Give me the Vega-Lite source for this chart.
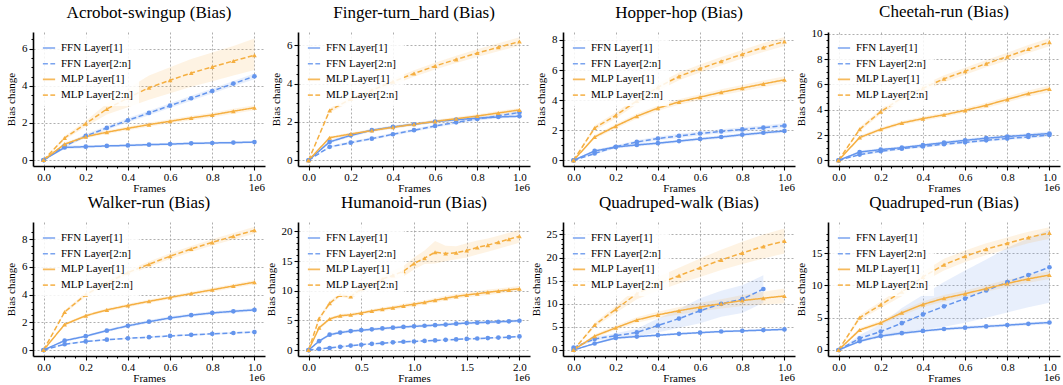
{
  "$schema": "https://vega.github.io/schema/vega-lite/v6.json",
  "padding": {"left": 5, "top": 2, "right": 2, "bottom": 0},
  "config": {
    "font": "Liberation Serif",
    "view": {"stroke": null},
    "style": {
      "group-title": {"font": "Liberation Serif", "fontSize": 17, "fontWeight": "normal", "fill": "black"},
      "guide-title": {"font": "Liberation Serif", "fontSize": 11, "fontWeight": "normal", "fill": "black"},
      "guide-label": {"font": "Liberation Serif", "fontSize": 11, "fill": "black"}
    },
    "text": {"font": "Liberation Serif", "fontSize": 11, "color": "black"},
    "title": {"font": "Liberation Serif", "fontSize": 17, "fontWeight": "normal", "color": "black", "offset": 10.5},
    "axis": {
      "labelFont": "Liberation Serif", "labelFontSize": 11, "labelColor": "black", "labelPadding": 2,
      "labelOverlap": false, "labelFlush": false,
      "titleFont": "Liberation Serif", "titleFontSize": 11, "titleFontWeight": "normal", "titleColor": "black",
      "domainColor": "black", "domainWidth": 1.6, "tickColor": "black", "tickWidth": 1.1,
      "gridColor": "#9a9a9a", "gridDash": [2, 2], "gridWidth": 0.8
    },
    "axisX": {"titlePadding": 0, "labelPadding": 1},
    "axisY": {"titlePadding": 5},
    "legend": {
      "orient": "top-left", "offset": 4, "padding": 5, "fillColor": "rgba(255,255,255,0.85)",
      "labelFont": "Liberation Serif", "labelFontSize": 11, "labelColor": "black", "labelOffset": 5,
      "symbolType": "stroke", "symbolSize": 150, "symbolStrokeWidth": 1.6, "rowPadding": 3.7
    }
  },
  "datasets": {
    "acrobot": [
      {"s":"FFN Layer[1]","x":0,"y":0,"lo":0,"hi":0},
      {"s":"FFN Layer[1]","x":100000,"y":0.68,"lo":0.58,"hi":0.78},
      {"s":"FFN Layer[1]","x":200000,"y":0.72,"lo":0.64,"hi":0.8},
      {"s":"FFN Layer[1]","x":300000,"y":0.76,"lo":0.69,"hi":0.83},
      {"s":"FFN Layer[1]","x":400000,"y":0.79,"lo":0.72,"hi":0.86},
      {"s":"FFN Layer[1]","x":500000,"y":0.83,"lo":0.76,"hi":0.9},
      {"s":"FFN Layer[1]","x":600000,"y":0.86,"lo":0.79,"hi":0.93},
      {"s":"FFN Layer[1]","x":700000,"y":0.9,"lo":0.83,"hi":0.97},
      {"s":"FFN Layer[1]","x":800000,"y":0.92,"lo":0.85,"hi":0.99},
      {"s":"FFN Layer[1]","x":900000,"y":0.94,"lo":0.87,"hi":1.01},
      {"s":"FFN Layer[1]","x":1000000,"y":0.97,"lo":0.9,"hi":1.04},
      {"s":"FFN Layer[2:n]","x":0,"y":0,"lo":0,"hi":0},
      {"s":"FFN Layer[2:n]","x":100000,"y":0.76,"lo":0.68,"hi":0.84},
      {"s":"FFN Layer[2:n]","x":200000,"y":1.3,"lo":1.2,"hi":1.4},
      {"s":"FFN Layer[2:n]","x":300000,"y":1.73,"lo":1.62,"hi":1.84},
      {"s":"FFN Layer[2:n]","x":400000,"y":2.14,"lo":2.02,"hi":2.26},
      {"s":"FFN Layer[2:n]","x":500000,"y":2.54,"lo":2.42,"hi":2.66},
      {"s":"FFN Layer[2:n]","x":600000,"y":2.93,"lo":2.8,"hi":3.06},
      {"s":"FFN Layer[2:n]","x":700000,"y":3.33,"lo":3.2,"hi":3.46},
      {"s":"FFN Layer[2:n]","x":800000,"y":3.72,"lo":3.58,"hi":3.86},
      {"s":"FFN Layer[2:n]","x":900000,"y":4.12,"lo":3.98,"hi":4.26},
      {"s":"FFN Layer[2:n]","x":1000000,"y":4.51,"lo":4.36,"hi":4.66},
      {"s":"MLP Layer[1]","x":0,"y":0,"lo":0,"hi":0},
      {"s":"MLP Layer[1]","x":100000,"y":0.86,"lo":0.78,"hi":0.94},
      {"s":"MLP Layer[1]","x":200000,"y":1.26,"lo":1.17,"hi":1.35},
      {"s":"MLP Layer[1]","x":300000,"y":1.5,"lo":1.4,"hi":1.6},
      {"s":"MLP Layer[1]","x":400000,"y":1.71,"lo":1.61,"hi":1.81},
      {"s":"MLP Layer[1]","x":500000,"y":1.91,"lo":1.8,"hi":2.02},
      {"s":"MLP Layer[1]","x":600000,"y":2.09,"lo":1.98,"hi":2.2},
      {"s":"MLP Layer[1]","x":700000,"y":2.27,"lo":2.15,"hi":2.39},
      {"s":"MLP Layer[1]","x":800000,"y":2.43,"lo":2.31,"hi":2.55},
      {"s":"MLP Layer[1]","x":900000,"y":2.63,"lo":2.5,"hi":2.76},
      {"s":"MLP Layer[1]","x":1000000,"y":2.82,"lo":2.68,"hi":2.96},
      {"s":"MLP Layer[2:n]","x":0,"y":0,"lo":0,"hi":0},
      {"s":"MLP Layer[2:n]","x":100000,"y":1.19,"lo":1.1,"hi":1.3},
      {"s":"MLP Layer[2:n]","x":200000,"y":1.96,"lo":1.8,"hi":2.1},
      {"s":"MLP Layer[2:n]","x":300000,"y":2.75,"lo":2.45,"hi":3.05},
      {"s":"MLP Layer[2:n]","x":400000,"y":3.35,"lo":2.85,"hi":3.85},
      {"s":"MLP Layer[2:n]","x":500000,"y":3.9,"lo":3.25,"hi":4.55},
      {"s":"MLP Layer[2:n]","x":600000,"y":4.3,"lo":3.6,"hi":5.0},
      {"s":"MLP Layer[2:n]","x":700000,"y":4.69,"lo":3.95,"hi":5.45},
      {"s":"MLP Layer[2:n]","x":800000,"y":5.02,"lo":4.25,"hi":5.8},
      {"s":"MLP Layer[2:n]","x":900000,"y":5.34,"lo":4.55,"hi":6.15},
      {"s":"MLP Layer[2:n]","x":1000000,"y":5.65,"lo":4.85,"hi":6.55}
    ],
    "finger": [
      {"s":"FFN Layer[1]","x":0,"y":0,"lo":0,"hi":0},
      {"s":"FFN Layer[1]","x":100000,"y":0.96,"lo":0.88,"hi":1.04},
      {"s":"FFN Layer[1]","x":200000,"y":1.3,"lo":1.22,"hi":1.38},
      {"s":"FFN Layer[1]","x":300000,"y":1.57,"lo":1.49,"hi":1.65},
      {"s":"FFN Layer[1]","x":400000,"y":1.74,"lo":1.66,"hi":1.82},
      {"s":"FFN Layer[1]","x":500000,"y":1.88,"lo":1.8,"hi":1.96},
      {"s":"FFN Layer[1]","x":600000,"y":2.02,"lo":1.94,"hi":2.1},
      {"s":"FFN Layer[1]","x":700000,"y":2.12,"lo":2.04,"hi":2.2},
      {"s":"FFN Layer[1]","x":800000,"y":2.2,"lo":2.12,"hi":2.28},
      {"s":"FFN Layer[1]","x":900000,"y":2.26,"lo":2.18,"hi":2.34},
      {"s":"FFN Layer[1]","x":1000000,"y":2.3,"lo":2.22,"hi":2.38},
      {"s":"FFN Layer[2:n]","x":0,"y":0,"lo":0,"hi":0},
      {"s":"FFN Layer[2:n]","x":100000,"y":0.7,"lo":0.64,"hi":0.76},
      {"s":"FFN Layer[2:n]","x":200000,"y":0.92,"lo":0.85,"hi":0.99},
      {"s":"FFN Layer[2:n]","x":300000,"y":1.13,"lo":1.06,"hi":1.2},
      {"s":"FFN Layer[2:n]","x":400000,"y":1.36,"lo":1.28,"hi":1.44},
      {"s":"FFN Layer[2:n]","x":500000,"y":1.57,"lo":1.49,"hi":1.65},
      {"s":"FFN Layer[2:n]","x":600000,"y":1.79,"lo":1.7,"hi":1.88},
      {"s":"FFN Layer[2:n]","x":700000,"y":1.98,"lo":1.89,"hi":2.07},
      {"s":"FFN Layer[2:n]","x":800000,"y":2.16,"lo":2.07,"hi":2.25},
      {"s":"FFN Layer[2:n]","x":900000,"y":2.32,"lo":2.22,"hi":2.42},
      {"s":"FFN Layer[2:n]","x":1000000,"y":2.5,"lo":2.4,"hi":2.6},
      {"s":"MLP Layer[1]","x":0,"y":0,"lo":0,"hi":0},
      {"s":"MLP Layer[1]","x":100000,"y":1.18,"lo":1.1,"hi":1.26},
      {"s":"MLP Layer[1]","x":200000,"y":1.37,"lo":1.29,"hi":1.45},
      {"s":"MLP Layer[1]","x":300000,"y":1.55,"lo":1.47,"hi":1.63},
      {"s":"MLP Layer[1]","x":400000,"y":1.72,"lo":1.64,"hi":1.8},
      {"s":"MLP Layer[1]","x":500000,"y":1.88,"lo":1.8,"hi":1.96},
      {"s":"MLP Layer[1]","x":600000,"y":2.03,"lo":1.94,"hi":2.12},
      {"s":"MLP Layer[1]","x":700000,"y":2.17,"lo":2.08,"hi":2.26},
      {"s":"MLP Layer[1]","x":800000,"y":2.31,"lo":2.22,"hi":2.4},
      {"s":"MLP Layer[1]","x":900000,"y":2.47,"lo":2.37,"hi":2.57},
      {"s":"MLP Layer[1]","x":1000000,"y":2.63,"lo":2.53,"hi":2.73},
      {"s":"MLP Layer[2:n]","x":0,"y":0,"lo":0,"hi":0},
      {"s":"MLP Layer[2:n]","x":100000,"y":2.6,"lo":2.48,"hi":2.72},
      {"s":"MLP Layer[2:n]","x":200000,"y":3.2,"lo":3.06,"hi":3.34},
      {"s":"MLP Layer[2:n]","x":300000,"y":3.65,"lo":3.5,"hi":3.8},
      {"s":"MLP Layer[2:n]","x":400000,"y":4.1,"lo":3.94,"hi":4.26},
      {"s":"MLP Layer[2:n]","x":500000,"y":4.53,"lo":4.36,"hi":4.7},
      {"s":"MLP Layer[2:n]","x":600000,"y":4.92,"lo":4.74,"hi":5.1},
      {"s":"MLP Layer[2:n]","x":700000,"y":5.27,"lo":5.08,"hi":5.46},
      {"s":"MLP Layer[2:n]","x":800000,"y":5.6,"lo":5.4,"hi":5.8},
      {"s":"MLP Layer[2:n]","x":900000,"y":5.9,"lo":5.69,"hi":6.11},
      {"s":"MLP Layer[2:n]","x":1000000,"y":6.2,"lo":5.98,"hi":6.42}
    ],
    "hopper": [
      {"s":"FFN Layer[1]","x":0,"y":0,"lo":0,"hi":0},
      {"s":"FFN Layer[1]","x":100000,"y":0.62,"lo":0.52,"hi":0.72},
      {"s":"FFN Layer[1]","x":200000,"y":0.88,"lo":0.78,"hi":0.98},
      {"s":"FFN Layer[1]","x":300000,"y":1.02,"lo":0.92,"hi":1.12},
      {"s":"FFN Layer[1]","x":400000,"y":1.14,"lo":1.04,"hi":1.24},
      {"s":"FFN Layer[1]","x":500000,"y":1.28,"lo":1.17,"hi":1.39},
      {"s":"FFN Layer[1]","x":600000,"y":1.42,"lo":1.31,"hi":1.53},
      {"s":"FFN Layer[1]","x":700000,"y":1.55,"lo":1.44,"hi":1.66},
      {"s":"FFN Layer[1]","x":800000,"y":1.7,"lo":1.58,"hi":1.82},
      {"s":"FFN Layer[1]","x":900000,"y":1.83,"lo":1.71,"hi":1.95},
      {"s":"FFN Layer[1]","x":1000000,"y":1.95,"lo":1.83,"hi":2.07},
      {"s":"FFN Layer[2:n]","x":0,"y":0,"lo":0,"hi":0},
      {"s":"FFN Layer[2:n]","x":100000,"y":0.45,"lo":0.37,"hi":0.53},
      {"s":"FFN Layer[2:n]","x":200000,"y":0.9,"lo":0.8,"hi":1.0},
      {"s":"FFN Layer[2:n]","x":300000,"y":1.22,"lo":1.1,"hi":1.34},
      {"s":"FFN Layer[2:n]","x":400000,"y":1.45,"lo":1.32,"hi":1.58},
      {"s":"FFN Layer[2:n]","x":500000,"y":1.62,"lo":1.48,"hi":1.76},
      {"s":"FFN Layer[2:n]","x":600000,"y":1.78,"lo":1.64,"hi":1.92},
      {"s":"FFN Layer[2:n]","x":700000,"y":1.92,"lo":1.78,"hi":2.06},
      {"s":"FFN Layer[2:n]","x":800000,"y":2.05,"lo":1.9,"hi":2.2},
      {"s":"FFN Layer[2:n]","x":900000,"y":2.17,"lo":2.02,"hi":2.32},
      {"s":"FFN Layer[2:n]","x":1000000,"y":2.3,"lo":2.14,"hi":2.46},
      {"s":"MLP Layer[1]","x":0,"y":0,"lo":0,"hi":0},
      {"s":"MLP Layer[1]","x":100000,"y":1.55,"lo":1.42,"hi":1.68},
      {"s":"MLP Layer[1]","x":200000,"y":2.27,"lo":2.12,"hi":2.42},
      {"s":"MLP Layer[1]","x":300000,"y":2.93,"lo":2.77,"hi":3.09},
      {"s":"MLP Layer[1]","x":400000,"y":3.47,"lo":3.3,"hi":3.64},
      {"s":"MLP Layer[1]","x":500000,"y":3.88,"lo":3.7,"hi":4.06},
      {"s":"MLP Layer[1]","x":600000,"y":4.2,"lo":4.01,"hi":4.39},
      {"s":"MLP Layer[1]","x":700000,"y":4.52,"lo":4.32,"hi":4.72},
      {"s":"MLP Layer[1]","x":800000,"y":4.8,"lo":4.59,"hi":5.01},
      {"s":"MLP Layer[1]","x":900000,"y":5.08,"lo":4.86,"hi":5.3},
      {"s":"MLP Layer[1]","x":1000000,"y":5.35,"lo":5.12,"hi":5.58},
      {"s":"MLP Layer[2:n]","x":0,"y":0,"lo":0,"hi":0},
      {"s":"MLP Layer[2:n]","x":100000,"y":2.15,"lo":1.98,"hi":2.32},
      {"s":"MLP Layer[2:n]","x":200000,"y":2.98,"lo":2.78,"hi":3.18},
      {"s":"MLP Layer[2:n]","x":300000,"y":3.95,"lo":3.72,"hi":4.18},
      {"s":"MLP Layer[2:n]","x":400000,"y":4.85,"lo":4.6,"hi":5.1},
      {"s":"MLP Layer[2:n]","x":500000,"y":5.58,"lo":5.32,"hi":5.84},
      {"s":"MLP Layer[2:n]","x":600000,"y":6.1,"lo":5.83,"hi":6.37},
      {"s":"MLP Layer[2:n]","x":700000,"y":6.58,"lo":6.3,"hi":6.86},
      {"s":"MLP Layer[2:n]","x":800000,"y":7.05,"lo":6.76,"hi":7.34},
      {"s":"MLP Layer[2:n]","x":900000,"y":7.5,"lo":7.2,"hi":7.8},
      {"s":"MLP Layer[2:n]","x":1000000,"y":7.9,"lo":7.6,"hi":8.2}
    ],
    "cheetah": [
      {"s":"FFN Layer[1]","x":0,"y":0,"lo":0,"hi":0},
      {"s":"FFN Layer[1]","x":100000,"y":0.65,"lo":0.52,"hi":0.78},
      {"s":"FFN Layer[1]","x":200000,"y":0.85,"lo":0.74,"hi":0.96},
      {"s":"FFN Layer[1]","x":300000,"y":1.0,"lo":0.89,"hi":1.11},
      {"s":"FFN Layer[1]","x":400000,"y":1.2,"lo":1.08,"hi":1.32},
      {"s":"FFN Layer[1]","x":500000,"y":1.4,"lo":1.27,"hi":1.53},
      {"s":"FFN Layer[1]","x":600000,"y":1.58,"lo":1.45,"hi":1.71},
      {"s":"FFN Layer[1]","x":700000,"y":1.75,"lo":1.62,"hi":1.88},
      {"s":"FFN Layer[1]","x":800000,"y":1.88,"lo":1.74,"hi":2.02},
      {"s":"FFN Layer[1]","x":900000,"y":2.0,"lo":1.86,"hi":2.14},
      {"s":"FFN Layer[1]","x":1000000,"y":2.12,"lo":1.97,"hi":2.27},
      {"s":"FFN Layer[2:n]","x":0,"y":0,"lo":0,"hi":0},
      {"s":"FFN Layer[2:n]","x":100000,"y":0.45,"lo":0.36,"hi":0.54},
      {"s":"FFN Layer[2:n]","x":200000,"y":0.72,"lo":0.62,"hi":0.82},
      {"s":"FFN Layer[2:n]","x":300000,"y":0.92,"lo":0.82,"hi":1.02},
      {"s":"FFN Layer[2:n]","x":400000,"y":1.1,"lo":0.99,"hi":1.21},
      {"s":"FFN Layer[2:n]","x":500000,"y":1.28,"lo":1.17,"hi":1.39},
      {"s":"FFN Layer[2:n]","x":600000,"y":1.42,"lo":1.31,"hi":1.53},
      {"s":"FFN Layer[2:n]","x":700000,"y":1.58,"lo":1.46,"hi":1.7},
      {"s":"FFN Layer[2:n]","x":800000,"y":1.72,"lo":1.6,"hi":1.84},
      {"s":"FFN Layer[2:n]","x":900000,"y":1.85,"lo":1.72,"hi":1.98},
      {"s":"FFN Layer[2:n]","x":1000000,"y":2.0,"lo":1.87,"hi":2.13},
      {"s":"MLP Layer[1]","x":0,"y":0,"lo":0,"hi":0},
      {"s":"MLP Layer[1]","x":100000,"y":1.8,"lo":1.66,"hi":1.94},
      {"s":"MLP Layer[1]","x":200000,"y":2.45,"lo":2.3,"hi":2.6},
      {"s":"MLP Layer[1]","x":300000,"y":2.95,"lo":2.79,"hi":3.11},
      {"s":"MLP Layer[1]","x":400000,"y":3.3,"lo":3.13,"hi":3.47},
      {"s":"MLP Layer[1]","x":500000,"y":3.6,"lo":3.42,"hi":3.78},
      {"s":"MLP Layer[1]","x":600000,"y":3.95,"lo":3.76,"hi":4.14},
      {"s":"MLP Layer[1]","x":700000,"y":4.35,"lo":4.14,"hi":4.56},
      {"s":"MLP Layer[1]","x":800000,"y":4.82,"lo":4.6,"hi":5.04},
      {"s":"MLP Layer[1]","x":900000,"y":5.28,"lo":5.04,"hi":5.52},
      {"s":"MLP Layer[1]","x":1000000,"y":5.65,"lo":5.38,"hi":5.92},
      {"s":"MLP Layer[2:n]","x":0,"y":0,"lo":0,"hi":0},
      {"s":"MLP Layer[2:n]","x":100000,"y":2.45,"lo":2.28,"hi":2.62},
      {"s":"MLP Layer[2:n]","x":200000,"y":3.85,"lo":3.64,"hi":4.06},
      {"s":"MLP Layer[2:n]","x":300000,"y":4.95,"lo":4.72,"hi":5.18},
      {"s":"MLP Layer[2:n]","x":400000,"y":5.7,"lo":5.45,"hi":5.95},
      {"s":"MLP Layer[2:n]","x":500000,"y":6.45,"lo":6.18,"hi":6.72},
      {"s":"MLP Layer[2:n]","x":600000,"y":7.05,"lo":6.77,"hi":7.33},
      {"s":"MLP Layer[2:n]","x":700000,"y":7.65,"lo":7.36,"hi":7.94},
      {"s":"MLP Layer[2:n]","x":800000,"y":8.2,"lo":7.9,"hi":8.5},
      {"s":"MLP Layer[2:n]","x":900000,"y":8.8,"lo":8.48,"hi":9.12},
      {"s":"MLP Layer[2:n]","x":1000000,"y":9.35,"lo":9.02,"hi":9.68}
    ],
    "walker": [
      {"s":"FFN Layer[1]","x":0,"y":0,"lo":0,"hi":0},
      {"s":"FFN Layer[1]","x":100000,"y":0.68,"lo":0.6,"hi":0.76},
      {"s":"FFN Layer[1]","x":200000,"y":1.0,"lo":0.91,"hi":1.09},
      {"s":"FFN Layer[1]","x":300000,"y":1.4,"lo":1.3,"hi":1.5},
      {"s":"FFN Layer[1]","x":400000,"y":1.75,"lo":1.64,"hi":1.86},
      {"s":"FFN Layer[1]","x":500000,"y":2.05,"lo":1.93,"hi":2.17},
      {"s":"FFN Layer[1]","x":600000,"y":2.32,"lo":2.2,"hi":2.44},
      {"s":"FFN Layer[1]","x":700000,"y":2.52,"lo":2.4,"hi":2.64},
      {"s":"FFN Layer[1]","x":800000,"y":2.68,"lo":2.56,"hi":2.8},
      {"s":"FFN Layer[1]","x":900000,"y":2.8,"lo":2.68,"hi":2.92},
      {"s":"FFN Layer[1]","x":1000000,"y":2.9,"lo":2.78,"hi":3.02},
      {"s":"FFN Layer[2:n]","x":0,"y":0,"lo":0,"hi":0},
      {"s":"FFN Layer[2:n]","x":100000,"y":0.42,"lo":0.36,"hi":0.48},
      {"s":"FFN Layer[2:n]","x":200000,"y":0.62,"lo":0.56,"hi":0.68},
      {"s":"FFN Layer[2:n]","x":300000,"y":0.75,"lo":0.69,"hi":0.81},
      {"s":"FFN Layer[2:n]","x":400000,"y":0.85,"lo":0.79,"hi":0.91},
      {"s":"FFN Layer[2:n]","x":500000,"y":0.93,"lo":0.87,"hi":0.99},
      {"s":"FFN Layer[2:n]","x":600000,"y":1.02,"lo":0.96,"hi":1.08},
      {"s":"FFN Layer[2:n]","x":700000,"y":1.1,"lo":1.04,"hi":1.16},
      {"s":"FFN Layer[2:n]","x":800000,"y":1.17,"lo":1.1,"hi":1.24},
      {"s":"FFN Layer[2:n]","x":900000,"y":1.23,"lo":1.16,"hi":1.3},
      {"s":"FFN Layer[2:n]","x":1000000,"y":1.3,"lo":1.23,"hi":1.37},
      {"s":"MLP Layer[1]","x":0,"y":0,"lo":0,"hi":0},
      {"s":"MLP Layer[1]","x":100000,"y":1.85,"lo":1.75,"hi":1.95},
      {"s":"MLP Layer[1]","x":200000,"y":2.48,"lo":2.37,"hi":2.59},
      {"s":"MLP Layer[1]","x":300000,"y":2.9,"lo":2.78,"hi":3.02},
      {"s":"MLP Layer[1]","x":400000,"y":3.22,"lo":3.1,"hi":3.34},
      {"s":"MLP Layer[1]","x":500000,"y":3.52,"lo":3.39,"hi":3.65},
      {"s":"MLP Layer[1]","x":600000,"y":3.8,"lo":3.67,"hi":3.93},
      {"s":"MLP Layer[1]","x":700000,"y":4.08,"lo":3.94,"hi":4.22},
      {"s":"MLP Layer[1]","x":800000,"y":4.35,"lo":4.2,"hi":4.5},
      {"s":"MLP Layer[1]","x":900000,"y":4.63,"lo":4.48,"hi":4.78},
      {"s":"MLP Layer[1]","x":1000000,"y":4.9,"lo":4.74,"hi":5.06},
      {"s":"MLP Layer[2:n]","x":0,"y":0,"lo":0,"hi":0},
      {"s":"MLP Layer[2:n]","x":100000,"y":2.75,"lo":2.62,"hi":2.88},
      {"s":"MLP Layer[2:n]","x":200000,"y":4.0,"lo":3.85,"hi":4.15},
      {"s":"MLP Layer[2:n]","x":300000,"y":4.85,"lo":4.68,"hi":5.02},
      {"s":"MLP Layer[2:n]","x":400000,"y":5.6,"lo":5.42,"hi":5.78},
      {"s":"MLP Layer[2:n]","x":500000,"y":6.2,"lo":6.0,"hi":6.4},
      {"s":"MLP Layer[2:n]","x":600000,"y":6.78,"lo":6.57,"hi":6.99},
      {"s":"MLP Layer[2:n]","x":700000,"y":7.3,"lo":7.08,"hi":7.52},
      {"s":"MLP Layer[2:n]","x":800000,"y":7.78,"lo":7.55,"hi":8.01},
      {"s":"MLP Layer[2:n]","x":900000,"y":8.22,"lo":7.98,"hi":8.46},
      {"s":"MLP Layer[2:n]","x":1000000,"y":8.65,"lo":8.4,"hi":8.9}
    ],
    "humanoid": [
      {"s":"FFN Layer[1]","x":0,"y":0,"lo":0,"hi":0},
      {"s":"FFN Layer[1]","x":100000,"y":1.5,"lo":1.3,"hi":1.7},
      {"s":"FFN Layer[1]","x":200000,"y":2.6,"lo":2.35,"hi":2.85},
      {"s":"FFN Layer[1]","x":300000,"y":2.95,"lo":2.7,"hi":3.2},
      {"s":"FFN Layer[1]","x":400000,"y":3.2,"lo":2.95,"hi":3.45},
      {"s":"FFN Layer[1]","x":500000,"y":3.35,"lo":3.1,"hi":3.6},
      {"s":"FFN Layer[1]","x":600000,"y":3.5,"lo":3.25,"hi":3.75},
      {"s":"FFN Layer[1]","x":700000,"y":3.65,"lo":3.4,"hi":3.9},
      {"s":"FFN Layer[1]","x":800000,"y":3.78,"lo":3.53,"hi":4.03},
      {"s":"FFN Layer[1]","x":900000,"y":3.9,"lo":3.65,"hi":4.15},
      {"s":"FFN Layer[1]","x":1000000,"y":4.0,"lo":3.75,"hi":4.25},
      {"s":"FFN Layer[1]","x":1100000,"y":4.1,"lo":3.85,"hi":4.35},
      {"s":"FFN Layer[1]","x":1200000,"y":4.2,"lo":3.95,"hi":4.45},
      {"s":"FFN Layer[1]","x":1300000,"y":4.3,"lo":4.05,"hi":4.55},
      {"s":"FFN Layer[1]","x":1400000,"y":4.45,"lo":4.2,"hi":4.7},
      {"s":"FFN Layer[1]","x":1500000,"y":4.55,"lo":4.3,"hi":4.8},
      {"s":"FFN Layer[1]","x":1600000,"y":4.62,"lo":4.37,"hi":4.87},
      {"s":"FFN Layer[1]","x":1700000,"y":4.7,"lo":4.45,"hi":4.95},
      {"s":"FFN Layer[1]","x":1800000,"y":4.78,"lo":4.53,"hi":5.03},
      {"s":"FFN Layer[1]","x":1900000,"y":4.85,"lo":4.6,"hi":5.1},
      {"s":"FFN Layer[1]","x":2000000,"y":4.95,"lo":4.7,"hi":5.2},
      {"s":"FFN Layer[2:n]","x":0,"y":0,"lo":0,"hi":0},
      {"s":"FFN Layer[2:n]","x":100000,"y":0.2,"lo":0.1,"hi":0.3},
      {"s":"FFN Layer[2:n]","x":200000,"y":0.35,"lo":0.22,"hi":0.48},
      {"s":"FFN Layer[2:n]","x":300000,"y":0.55,"lo":0.4,"hi":0.7},
      {"s":"FFN Layer[2:n]","x":400000,"y":0.75,"lo":0.6,"hi":0.9},
      {"s":"FFN Layer[2:n]","x":500000,"y":0.9,"lo":0.75,"hi":1.05},
      {"s":"FFN Layer[2:n]","x":600000,"y":1.05,"lo":0.9,"hi":1.2},
      {"s":"FFN Layer[2:n]","x":700000,"y":1.15,"lo":1.0,"hi":1.3},
      {"s":"FFN Layer[2:n]","x":800000,"y":1.3,"lo":1.15,"hi":1.45},
      {"s":"FFN Layer[2:n]","x":900000,"y":1.4,"lo":1.25,"hi":1.55},
      {"s":"FFN Layer[2:n]","x":1000000,"y":1.45,"lo":1.3,"hi":1.6},
      {"s":"FFN Layer[2:n]","x":1100000,"y":1.55,"lo":1.4,"hi":1.7},
      {"s":"FFN Layer[2:n]","x":1200000,"y":1.62,"lo":1.47,"hi":1.77},
      {"s":"FFN Layer[2:n]","x":1300000,"y":1.72,"lo":1.57,"hi":1.87},
      {"s":"FFN Layer[2:n]","x":1400000,"y":1.8,"lo":1.65,"hi":1.95},
      {"s":"FFN Layer[2:n]","x":1500000,"y":1.88,"lo":1.73,"hi":2.03},
      {"s":"FFN Layer[2:n]","x":1600000,"y":1.95,"lo":1.8,"hi":2.1},
      {"s":"FFN Layer[2:n]","x":1700000,"y":2.02,"lo":1.87,"hi":2.17},
      {"s":"FFN Layer[2:n]","x":1800000,"y":2.1,"lo":1.95,"hi":2.25},
      {"s":"FFN Layer[2:n]","x":1900000,"y":2.18,"lo":2.03,"hi":2.33},
      {"s":"FFN Layer[2:n]","x":2000000,"y":2.3,"lo":2.15,"hi":2.45},
      {"s":"MLP Layer[1]","x":0,"y":0,"lo":0,"hi":0},
      {"s":"MLP Layer[1]","x":100000,"y":3.75,"lo":3.45,"hi":4.05},
      {"s":"MLP Layer[1]","x":200000,"y":5.25,"lo":4.95,"hi":5.55},
      {"s":"MLP Layer[1]","x":300000,"y":5.8,"lo":5.5,"hi":6.1},
      {"s":"MLP Layer[1]","x":400000,"y":5.95,"lo":5.65,"hi":6.25},
      {"s":"MLP Layer[1]","x":500000,"y":6.25,"lo":5.95,"hi":6.55},
      {"s":"MLP Layer[1]","x":600000,"y":6.6,"lo":6.3,"hi":6.9},
      {"s":"MLP Layer[1]","x":700000,"y":6.9,"lo":6.58,"hi":7.22},
      {"s":"MLP Layer[1]","x":800000,"y":7.15,"lo":6.82,"hi":7.48},
      {"s":"MLP Layer[1]","x":900000,"y":7.45,"lo":7.1,"hi":7.8},
      {"s":"MLP Layer[1]","x":1000000,"y":7.75,"lo":7.4,"hi":8.1},
      {"s":"MLP Layer[1]","x":1100000,"y":8.05,"lo":7.68,"hi":8.42},
      {"s":"MLP Layer[1]","x":1200000,"y":8.4,"lo":8.02,"hi":8.78},
      {"s":"MLP Layer[1]","x":1300000,"y":8.75,"lo":8.35,"hi":9.15},
      {"s":"MLP Layer[1]","x":1400000,"y":9.05,"lo":8.64,"hi":9.46},
      {"s":"MLP Layer[1]","x":1500000,"y":9.3,"lo":8.88,"hi":9.72},
      {"s":"MLP Layer[1]","x":1600000,"y":9.5,"lo":9.07,"hi":9.93},
      {"s":"MLP Layer[1]","x":1700000,"y":9.75,"lo":9.3,"hi":10.2},
      {"s":"MLP Layer[1]","x":1800000,"y":9.95,"lo":9.5,"hi":10.4},
      {"s":"MLP Layer[1]","x":1900000,"y":10.15,"lo":9.7,"hi":10.6},
      {"s":"MLP Layer[1]","x":2000000,"y":10.35,"lo":9.9,"hi":10.8},
      {"s":"MLP Layer[2:n]","x":0,"y":0,"lo":0,"hi":0},
      {"s":"MLP Layer[2:n]","x":100000,"y":5.3,"lo":5.0,"hi":5.6},
      {"s":"MLP Layer[2:n]","x":200000,"y":7.9,"lo":7.5,"hi":8.3},
      {"s":"MLP Layer[2:n]","x":300000,"y":9.3,"lo":9.0,"hi":9.6},
      {"s":"MLP Layer[2:n]","x":400000,"y":9.05,"lo":8.6,"hi":9.5},
      {"s":"MLP Layer[2:n]","x":500000,"y":10.3,"lo":9.7,"hi":10.9},
      {"s":"MLP Layer[2:n]","x":600000,"y":11.2,"lo":10.5,"hi":11.9},
      {"s":"MLP Layer[2:n]","x":700000,"y":12.0,"lo":11.3,"hi":12.7},
      {"s":"MLP Layer[2:n]","x":800000,"y":12.6,"lo":11.8,"hi":13.4},
      {"s":"MLP Layer[2:n]","x":900000,"y":13.3,"lo":12.4,"hi":14.2},
      {"s":"MLP Layer[2:n]","x":1000000,"y":14.6,"lo":13.6,"hi":15.6},
      {"s":"MLP Layer[2:n]","x":1100000,"y":15.5,"lo":14.5,"hi":16.8},
      {"s":"MLP Layer[2:n]","x":1200000,"y":16.5,"lo":14.6,"hi":18.4},
      {"s":"MLP Layer[2:n]","x":1300000,"y":16.3,"lo":15.0,"hi":17.6},
      {"s":"MLP Layer[2:n]","x":1400000,"y":16.4,"lo":15.3,"hi":17.5},
      {"s":"MLP Layer[2:n]","x":1500000,"y":16.8,"lo":15.6,"hi":18.0},
      {"s":"MLP Layer[2:n]","x":1600000,"y":17.3,"lo":16.1,"hi":18.5},
      {"s":"MLP Layer[2:n]","x":1700000,"y":17.7,"lo":16.6,"hi":18.8},
      {"s":"MLP Layer[2:n]","x":1800000,"y":18.2,"lo":17.1,"hi":19.3},
      {"s":"MLP Layer[2:n]","x":1900000,"y":18.7,"lo":17.6,"hi":19.8},
      {"s":"MLP Layer[2:n]","x":2000000,"y":19.2,"lo":18.1,"hi":20.3}
    ],
    "qwalk": [
      {"s":"FFN Layer[1]","x":0,"y":0,"lo":0,"hi":0},
      {"s":"FFN Layer[1]","x":100000,"y":1.4,"lo":1.2,"hi":1.6},
      {"s":"FFN Layer[1]","x":200000,"y":2.6,"lo":2.35,"hi":2.85},
      {"s":"FFN Layer[1]","x":300000,"y":2.9,"lo":2.65,"hi":3.15},
      {"s":"FFN Layer[1]","x":400000,"y":3.2,"lo":2.95,"hi":3.45},
      {"s":"FFN Layer[1]","x":500000,"y":3.5,"lo":3.25,"hi":3.75},
      {"s":"FFN Layer[1]","x":600000,"y":3.75,"lo":3.5,"hi":4.0},
      {"s":"FFN Layer[1]","x":700000,"y":4.0,"lo":3.75,"hi":4.25},
      {"s":"FFN Layer[1]","x":800000,"y":4.15,"lo":3.9,"hi":4.4},
      {"s":"FFN Layer[1]","x":900000,"y":4.3,"lo":4.05,"hi":4.55},
      {"s":"FFN Layer[1]","x":1000000,"y":4.45,"lo":4.2,"hi":4.7},
      {"s":"FFN Layer[2:n]","x":0,"y":0.5,"lo":0.3,"hi":0.7},
      {"s":"FFN Layer[2:n]","x":100000,"y":2.4,"lo":2.0,"hi":2.8},
      {"s":"FFN Layer[2:n]","x":200000,"y":3.1,"lo":2.6,"hi":3.6},
      {"s":"FFN Layer[2:n]","x":300000,"y":3.8,"lo":3.0,"hi":4.6},
      {"s":"FFN Layer[2:n]","x":400000,"y":5.3,"lo":3.8,"hi":6.8},
      {"s":"FFN Layer[2:n]","x":500000,"y":6.8,"lo":4.8,"hi":8.8},
      {"s":"FFN Layer[2:n]","x":600000,"y":8.5,"lo":5.8,"hi":11.2},
      {"s":"FFN Layer[2:n]","x":700000,"y":10.0,"lo":7.2,"hi":12.8},
      {"s":"FFN Layer[2:n]","x":800000,"y":11.0,"lo":8.0,"hi":14.0},
      {"s":"FFN Layer[2:n]","x":900000,"y":13.2,"lo":10.2,"hi":16.2},
      {"s":"MLP Layer[1]","x":0,"y":0,"lo":0,"hi":0},
      {"s":"MLP Layer[1]","x":100000,"y":3.0,"lo":2.6,"hi":3.4},
      {"s":"MLP Layer[1]","x":200000,"y":4.8,"lo":4.3,"hi":5.3},
      {"s":"MLP Layer[1]","x":300000,"y":6.5,"lo":5.9,"hi":7.1},
      {"s":"MLP Layer[1]","x":400000,"y":7.6,"lo":6.9,"hi":8.3},
      {"s":"MLP Layer[1]","x":500000,"y":8.5,"lo":7.7,"hi":9.3},
      {"s":"MLP Layer[1]","x":600000,"y":9.3,"lo":8.4,"hi":10.2},
      {"s":"MLP Layer[1]","x":700000,"y":10.0,"lo":9.0,"hi":11.0},
      {"s":"MLP Layer[1]","x":800000,"y":10.7,"lo":9.5,"hi":11.9},
      {"s":"MLP Layer[1]","x":900000,"y":11.2,"lo":9.8,"hi":12.6},
      {"s":"MLP Layer[1]","x":1000000,"y":11.7,"lo":10.1,"hi":13.3},
      {"s":"MLP Layer[2:n]","x":0,"y":0,"lo":0,"hi":0},
      {"s":"MLP Layer[2:n]","x":100000,"y":5.4,"lo":4.9,"hi":5.9},
      {"s":"MLP Layer[2:n]","x":200000,"y":8.8,"lo":8.0,"hi":9.6},
      {"s":"MLP Layer[2:n]","x":300000,"y":12.2,"lo":11.0,"hi":13.4},
      {"s":"MLP Layer[2:n]","x":400000,"y":14.3,"lo":12.8,"hi":15.8},
      {"s":"MLP Layer[2:n]","x":500000,"y":16.1,"lo":14.4,"hi":17.8},
      {"s":"MLP Layer[2:n]","x":600000,"y":17.8,"lo":15.8,"hi":19.8},
      {"s":"MLP Layer[2:n]","x":700000,"y":19.5,"lo":17.3,"hi":21.7},
      {"s":"MLP Layer[2:n]","x":800000,"y":21.0,"lo":18.6,"hi":23.4},
      {"s":"MLP Layer[2:n]","x":900000,"y":22.4,"lo":19.8,"hi":25.0},
      {"s":"MLP Layer[2:n]","x":1000000,"y":23.6,"lo":20.9,"hi":26.3}
    ],
    "qrun": [
      {"s":"FFN Layer[1]","x":0,"y":0,"lo":0,"hi":0},
      {"s":"FFN Layer[1]","x":100000,"y":1.35,"lo":1.15,"hi":1.55},
      {"s":"FFN Layer[1]","x":200000,"y":2.15,"lo":1.9,"hi":2.4},
      {"s":"FFN Layer[1]","x":300000,"y":2.6,"lo":2.35,"hi":2.85},
      {"s":"FFN Layer[1]","x":400000,"y":2.95,"lo":2.7,"hi":3.2},
      {"s":"FFN Layer[1]","x":500000,"y":3.25,"lo":3.0,"hi":3.5},
      {"s":"FFN Layer[1]","x":600000,"y":3.45,"lo":3.2,"hi":3.7},
      {"s":"FFN Layer[1]","x":700000,"y":3.65,"lo":3.4,"hi":3.9},
      {"s":"FFN Layer[1]","x":800000,"y":3.85,"lo":3.6,"hi":4.1},
      {"s":"FFN Layer[1]","x":900000,"y":4.05,"lo":3.8,"hi":4.3},
      {"s":"FFN Layer[1]","x":1000000,"y":4.25,"lo":4.0,"hi":4.5},
      {"s":"FFN Layer[2:n]","x":0,"y":0,"lo":0,"hi":0},
      {"s":"FFN Layer[2:n]","x":100000,"y":1.8,"lo":1.3,"hi":2.3},
      {"s":"FFN Layer[2:n]","x":200000,"y":2.85,"lo":2.0,"hi":4.0},
      {"s":"FFN Layer[2:n]","x":300000,"y":4.15,"lo":2.7,"hi":6.5},
      {"s":"FFN Layer[2:n]","x":400000,"y":5.5,"lo":3.2,"hi":8.5},
      {"s":"FFN Layer[2:n]","x":500000,"y":6.75,"lo":3.6,"hi":10.5},
      {"s":"FFN Layer[2:n]","x":600000,"y":7.95,"lo":4.2,"hi":12.3},
      {"s":"FFN Layer[2:n]","x":700000,"y":9.2,"lo":5.0,"hi":14.0},
      {"s":"FFN Layer[2:n]","x":800000,"y":10.5,"lo":5.8,"hi":15.8},
      {"s":"FFN Layer[2:n]","x":900000,"y":11.6,"lo":6.6,"hi":17.3},
      {"s":"FFN Layer[2:n]","x":1000000,"y":12.8,"lo":7.3,"hi":18.6},
      {"s":"MLP Layer[1]","x":0,"y":0,"lo":0,"hi":0},
      {"s":"MLP Layer[1]","x":100000,"y":3.1,"lo":2.8,"hi":3.4},
      {"s":"MLP Layer[1]","x":200000,"y":4.2,"lo":3.85,"hi":4.55},
      {"s":"MLP Layer[1]","x":300000,"y":5.75,"lo":5.35,"hi":6.15},
      {"s":"MLP Layer[1]","x":400000,"y":7.05,"lo":6.6,"hi":7.5},
      {"s":"MLP Layer[1]","x":500000,"y":8.0,"lo":7.5,"hi":8.5},
      {"s":"MLP Layer[1]","x":600000,"y":8.7,"lo":8.2,"hi":9.2},
      {"s":"MLP Layer[1]","x":700000,"y":9.5,"lo":9.0,"hi":10.0},
      {"s":"MLP Layer[1]","x":800000,"y":10.3,"lo":9.75,"hi":10.85},
      {"s":"MLP Layer[1]","x":900000,"y":11.0,"lo":10.4,"hi":11.6},
      {"s":"MLP Layer[1]","x":1000000,"y":11.6,"lo":11.0,"hi":12.2},
      {"s":"MLP Layer[2:n]","x":0,"y":0,"lo":0,"hi":0},
      {"s":"MLP Layer[2:n]","x":100000,"y":5.0,"lo":4.6,"hi":5.4},
      {"s":"MLP Layer[2:n]","x":200000,"y":7.0,"lo":6.5,"hi":7.5},
      {"s":"MLP Layer[2:n]","x":300000,"y":9.0,"lo":8.3,"hi":9.7},
      {"s":"MLP Layer[2:n]","x":400000,"y":11.3,"lo":10.5,"hi":12.1},
      {"s":"MLP Layer[2:n]","x":500000,"y":13.2,"lo":12.3,"hi":14.1},
      {"s":"MLP Layer[2:n]","x":600000,"y":14.5,"lo":13.6,"hi":15.4},
      {"s":"MLP Layer[2:n]","x":700000,"y":15.6,"lo":14.7,"hi":16.5},
      {"s":"MLP Layer[2:n]","x":800000,"y":16.5,"lo":15.6,"hi":17.4},
      {"s":"MLP Layer[2:n]","x":900000,"y":17.4,"lo":16.5,"hi":18.3},
      {"s":"MLP Layer[2:n]","x":1000000,"y":18.1,"lo":17.2,"hi":19.0}
    ]
  },
  "columns": 4,
  "spacing": {"row": 56, "column": 33},
  "bounds": "flush",
  "resolve": {
    "scale": {"color": "independent", "strokeDash": "independent"},
    "legend": {"color": "independent", "strokeDash": "independent"}
  },
  "concat": [
    {
      "title": {"text": "Acrobot-swingup (Bias)", "fontWeight": "normal", "fontSize": 17, "font": "Liberation Serif", "offset": 10.5}, "width": 232, "height": 134,
      "data": {"name": "acrobot"},
      "encoding": {"x": {"field": "x", "type": "quantitative", "scale": {"domain": [-50000, 1050000], "nice": false, "zero": false},
        "axis": {"title": "Frames", "labelOverlap": false, "tickCount": 200, "values": [0,50000,100000,150000,200000,250000,300000,350000,400000,450000,500000,550000,600000,650000,700000,750000,800000,850000,900000,950000,1000000],
          "labelExpr": "datum.value % 200000 == 0 ? format(datum.value / 1e6, '.1f') : ''",
          "tickSize": {"condition": {"test": "datum.value % 200000 == 0", "value": 4}, "value": 2},
          "gridOpacity": {"condition": {"test": "datum.value % 200000 == 0", "value": 1}, "value": 0}}}},
      "layer": [
        {"mark": {"type": "area", "opacity": 0.15}, "encoding": {"y": {"field": "lo", "type": "quantitative", "scale": {"domain": [-0.32, 6.9], "nice": false, "zero": false}}, "y2": {"field": "hi"},
          "detail": {"field": "s"}, "fill": {"condition": {"test": "indexof(datum.s, 'FFN') == 0", "value": "#6495ED"}, "value": "#F5AF41"}}},
        {"mark": {"type": "line", "strokeWidth": 1.5}, "encoding": {"y": {"field": "y", "type": "quantitative", "scale": {"domain": [-0.32, 6.9], "nice": false, "zero": false},
            "axis": {"title": "Bias change", "labelOverlap": false, "tickCount": 200, "values": [0,0.5,1,1.5,2,2.5,3,3.5,4,4.5,5,5.5,6,6.5], "labelExpr": "datum.value % 2 == 0 ? format(datum.value, 'd') : ''",
              "tickSize": {"condition": {"test": "datum.value % 2 == 0", "value": 4}, "value": 2},
              "gridOpacity": {"condition": {"test": "datum.value % 2 == 0", "value": 1}, "value": 0}}},
          "color": {"field": "s", "type": "nominal", "title": null, "legend": {"orient": "top-left", "symbolType": "stroke", "symbolOpacity": 0.85}, "scale": {"domain": ["FFN Layer[1]","FFN Layer[2:n]","MLP Layer[1]","MLP Layer[2:n]"], "range": ["#6495ED","#6495ED","#F5AF41","#F5AF41"]}},
          "strokeDash": {"field": "s", "type": "nominal", "title": null, "scale": {"domain": ["FFN Layer[1]","FFN Layer[2:n]","MLP Layer[1]","MLP Layer[2:n]"], "range": [[1,0],[5,2.5],[1,0],[5,2.5]]}}}},
        {"mark": {"type": "point", "filled": true, "size": 22, "opacity": 1}, "encoding": {"y": {"field": "y", "type": "quantitative", "scale": {"domain": [-0.32, 6.9], "nice": false, "zero": false}},
          "color": {"condition": {"test": "indexof(datum.s, 'FFN') == 0", "value": "#6495ED"}, "value": "#F5AF41"},
          "shape": {"condition": {"test": "indexof(datum.s, 'FFN') == 0", "value": "circle"}, "value": "triangle-up"}}},
        {"transform": [{"filter": "datum.x == 0 && datum.s == 'FFN Layer[1]'"}],
          "mark": {"type": "text", "text": "1e6", "align": "right", "baseline": "middle", "dy": 22, "fontSize": 11},
          "encoding": {"x": {"datum": 1050000}, "y": {"datum": -0.32}}}
      ]
    },
    {
      "title": {"text": "Finger-turn_hard (Bias)", "fontWeight": "normal", "fontSize": 17, "font": "Liberation Serif", "offset": 10.5}, "width": 232, "height": 134,
      "data": {"name": "finger"},
      "encoding": {"x": {"field": "x", "type": "quantitative", "scale": {"domain": [-50000, 1050000], "nice": false, "zero": false},
        "axis": {"title": "Frames", "labelOverlap": false, "tickCount": 200, "values": [0,50000,100000,150000,200000,250000,300000,350000,400000,450000,500000,550000,600000,650000,700000,750000,800000,850000,900000,950000,1000000],
          "labelExpr": "datum.value % 200000 == 0 ? format(datum.value / 1e6, '.1f') : ''",
          "tickSize": {"condition": {"test": "datum.value % 200000 == 0", "value": 4}, "value": 2},
          "gridOpacity": {"condition": {"test": "datum.value % 200000 == 0", "value": 1}, "value": 0}}}},
      "layer": [
        {"mark": {"type": "area", "opacity": 0.15}, "encoding": {"y": {"field": "lo", "type": "quantitative", "scale": {"domain": [-0.3, 6.7], "nice": false, "zero": false}}, "y2": {"field": "hi"},
          "detail": {"field": "s"}, "fill": {"condition": {"test": "indexof(datum.s, 'FFN') == 0", "value": "#6495ED"}, "value": "#F5AF41"}}},
        {"mark": {"type": "line", "strokeWidth": 1.5}, "encoding": {"y": {"field": "y", "type": "quantitative", "scale": {"domain": [-0.3, 6.7], "nice": false, "zero": false},
            "axis": {"title": "Bias change", "labelOverlap": false, "tickCount": 200, "values": [0,0.5,1,1.5,2,2.5,3,3.5,4,4.5,5,5.5,6], "labelExpr": "datum.value % 2 == 0 ? format(datum.value, 'd') : ''",
              "tickSize": {"condition": {"test": "datum.value % 2 == 0", "value": 4}, "value": 2},
              "gridOpacity": {"condition": {"test": "datum.value % 2 == 0", "value": 1}, "value": 0}}},
          "color": {"field": "s", "type": "nominal", "title": null, "legend": {"orient": "top-left", "symbolType": "stroke", "symbolOpacity": 0.85}, "scale": {"domain": ["FFN Layer[1]","FFN Layer[2:n]","MLP Layer[1]","MLP Layer[2:n]"], "range": ["#6495ED","#6495ED","#F5AF41","#F5AF41"]}},
          "strokeDash": {"field": "s", "type": "nominal", "title": null, "scale": {"domain": ["FFN Layer[1]","FFN Layer[2:n]","MLP Layer[1]","MLP Layer[2:n]"], "range": [[1,0],[5,2.5],[1,0],[5,2.5]]}}}},
        {"mark": {"type": "point", "filled": true, "size": 22, "opacity": 1}, "encoding": {"y": {"field": "y", "type": "quantitative", "scale": {"domain": [-0.3, 6.7], "nice": false, "zero": false}},
          "color": {"condition": {"test": "indexof(datum.s, 'FFN') == 0", "value": "#6495ED"}, "value": "#F5AF41"},
          "shape": {"condition": {"test": "indexof(datum.s, 'FFN') == 0", "value": "circle"}, "value": "triangle-up"}}},
        {"transform": [{"filter": "datum.x == 0 && datum.s == 'FFN Layer[1]'"}],
          "mark": {"type": "text", "text": "1e6", "align": "right", "baseline": "middle", "dy": 22, "fontSize": 11},
          "encoding": {"x": {"datum": 1050000}, "y": {"datum": -0.3}}}
      ]
    },
    {
      "title": {"text": "Hopper-hop (Bias)", "fontWeight": "normal", "fontSize": 17, "font": "Liberation Serif", "offset": 10.5}, "width": 232, "height": 134,
      "data": {"name": "hopper"},
      "encoding": {"x": {"field": "x", "type": "quantitative", "scale": {"domain": [-50000, 1050000], "nice": false, "zero": false},
        "axis": {"title": "Frames", "labelOverlap": false, "tickCount": 200, "values": [0,50000,100000,150000,200000,250000,300000,350000,400000,450000,500000,550000,600000,650000,700000,750000,800000,850000,900000,950000,1000000],
          "labelExpr": "datum.value % 200000 == 0 ? format(datum.value / 1e6, '.1f') : ''",
          "tickSize": {"condition": {"test": "datum.value % 200000 == 0", "value": 4}, "value": 2},
          "gridOpacity": {"condition": {"test": "datum.value % 200000 == 0", "value": 1}, "value": 0}}}},
      "layer": [
        {"mark": {"type": "area", "opacity": 0.15}, "encoding": {"y": {"field": "lo", "type": "quantitative", "scale": {"domain": [-0.38, 8.53], "nice": false, "zero": false}}, "y2": {"field": "hi"},
          "detail": {"field": "s"}, "fill": {"condition": {"test": "indexof(datum.s, 'FFN') == 0", "value": "#6495ED"}, "value": "#F5AF41"}}},
        {"mark": {"type": "line", "strokeWidth": 1.5}, "encoding": {"y": {"field": "y", "type": "quantitative", "scale": {"domain": [-0.38, 8.53], "nice": false, "zero": false},
            "axis": {"title": "Bias change", "labelOverlap": false, "tickCount": 200, "values": [0,0.5,1,1.5,2,2.5,3,3.5,4,4.5,5,5.5,6,6.5,7,7.5,8], "labelExpr": "datum.value % 2 == 0 ? format(datum.value, 'd') : ''",
              "tickSize": {"condition": {"test": "datum.value % 2 == 0", "value": 4}, "value": 2},
              "gridOpacity": {"condition": {"test": "datum.value % 2 == 0", "value": 1}, "value": 0}}},
          "color": {"field": "s", "type": "nominal", "title": null, "legend": {"orient": "top-left", "symbolType": "stroke", "symbolOpacity": 0.85}, "scale": {"domain": ["FFN Layer[1]","FFN Layer[2:n]","MLP Layer[1]","MLP Layer[2:n]"], "range": ["#6495ED","#6495ED","#F5AF41","#F5AF41"]}},
          "strokeDash": {"field": "s", "type": "nominal", "title": null, "scale": {"domain": ["FFN Layer[1]","FFN Layer[2:n]","MLP Layer[1]","MLP Layer[2:n]"], "range": [[1,0],[5,2.5],[1,0],[5,2.5]]}}}},
        {"mark": {"type": "point", "filled": true, "size": 22, "opacity": 1}, "encoding": {"y": {"field": "y", "type": "quantitative", "scale": {"domain": [-0.38, 8.53], "nice": false, "zero": false}},
          "color": {"condition": {"test": "indexof(datum.s, 'FFN') == 0", "value": "#6495ED"}, "value": "#F5AF41"},
          "shape": {"condition": {"test": "indexof(datum.s, 'FFN') == 0", "value": "circle"}, "value": "triangle-up"}}},
        {"transform": [{"filter": "datum.x == 0 && datum.s == 'FFN Layer[1]'"}],
          "mark": {"type": "text", "text": "1e6", "align": "right", "baseline": "middle", "dy": 22, "fontSize": 11},
          "encoding": {"x": {"datum": 1050000}, "y": {"datum": -0.38}}}
      ]
    },
    {
      "title": {"text": "Cheetah-run (Bias)", "fontWeight": "normal", "fontSize": 17, "font": "Liberation Serif", "offset": 7}, "width": 232, "height": 134,
      "data": {"name": "cheetah"},
      "encoding": {"x": {"field": "x", "type": "quantitative", "scale": {"domain": [-50000, 1050000], "nice": false, "zero": false},
        "axis": {"title": "Frames", "labelOverlap": false, "tickCount": 200, "values": [0,50000,100000,150000,200000,250000,300000,350000,400000,450000,500000,550000,600000,650000,700000,750000,800000,850000,900000,950000,1000000],
          "labelExpr": "datum.value % 200000 == 0 ? format(datum.value / 1e6, '.1f') : ''",
          "tickSize": {"condition": {"test": "datum.value % 200000 == 0", "value": 4}, "value": 2},
          "gridOpacity": {"condition": {"test": "datum.value % 200000 == 0", "value": 1}, "value": 0}}}},
      "layer": [
        {"mark": {"type": "area", "opacity": 0.15}, "encoding": {"y": {"field": "lo", "type": "quantitative", "scale": {"domain": [-0.45, 10.15], "nice": false, "zero": false}}, "y2": {"field": "hi"},
          "detail": {"field": "s"}, "fill": {"condition": {"test": "indexof(datum.s, 'FFN') == 0", "value": "#6495ED"}, "value": "#F5AF41"}}},
        {"mark": {"type": "line", "strokeWidth": 1.5}, "encoding": {"y": {"field": "y", "type": "quantitative", "scale": {"domain": [-0.45, 10.15], "nice": false, "zero": false},
            "axis": {"title": "Bias change", "labelOverlap": false, "tickCount": 200, "values": [0,0.5,1,1.5,2,2.5,3,3.5,4,4.5,5,5.5,6,6.5,7,7.5,8,8.5,9,9.5,10], "labelExpr": "datum.value % 2 == 0 ? format(datum.value, 'd') : ''",
              "tickSize": {"condition": {"test": "datum.value % 2 == 0", "value": 4}, "value": 2},
              "gridOpacity": {"condition": {"test": "datum.value % 2 == 0", "value": 1}, "value": 0}}},
          "color": {"field": "s", "type": "nominal", "title": null, "legend": {"orient": "top-left", "symbolType": "stroke", "symbolOpacity": 0.85}, "scale": {"domain": ["FFN Layer[1]","FFN Layer[2:n]","MLP Layer[1]","MLP Layer[2:n]"], "range": ["#6495ED","#6495ED","#F5AF41","#F5AF41"]}},
          "strokeDash": {"field": "s", "type": "nominal", "title": null, "scale": {"domain": ["FFN Layer[1]","FFN Layer[2:n]","MLP Layer[1]","MLP Layer[2:n]"], "range": [[1,0],[5,2.5],[1,0],[5,2.5]]}}}},
        {"mark": {"type": "point", "filled": true, "size": 22, "opacity": 1}, "encoding": {"y": {"field": "y", "type": "quantitative", "scale": {"domain": [-0.45, 10.15], "nice": false, "zero": false}},
          "color": {"condition": {"test": "indexof(datum.s, 'FFN') == 0", "value": "#6495ED"}, "value": "#F5AF41"},
          "shape": {"condition": {"test": "indexof(datum.s, 'FFN') == 0", "value": "circle"}, "value": "triangle-up"}}},
        {"transform": [{"filter": "datum.x == 0 && datum.s == 'FFN Layer[1]'"}],
          "mark": {"type": "text", "text": "1e6", "align": "right", "baseline": "middle", "dy": 22, "fontSize": 11},
          "encoding": {"x": {"datum": 1050000}, "y": {"datum": -0.45}}}
      ]
    },
    {
      "title": {"text": "Walker-run (Bias)", "fontWeight": "normal", "fontSize": 17, "font": "Liberation Serif", "offset": 10.5}, "width": 232, "height": 134,
      "data": {"name": "walker"},
      "encoding": {"x": {"field": "x", "type": "quantitative", "scale": {"domain": [-50000, 1050000], "nice": false, "zero": false},
        "axis": {"title": "Frames", "labelOverlap": false, "tickCount": 200, "values": [0,50000,100000,150000,200000,250000,300000,350000,400000,450000,500000,550000,600000,650000,700000,750000,800000,850000,900000,950000,1000000],
          "labelExpr": "datum.value % 200000 == 0 ? format(datum.value / 1e6, '.1f') : ''",
          "tickSize": {"condition": {"test": "datum.value % 200000 == 0", "value": 4}, "value": 2},
          "gridOpacity": {"condition": {"test": "datum.value % 200000 == 0", "value": 1}, "value": 0}}}},
      "layer": [
        {"mark": {"type": "area", "opacity": 0.15}, "encoding": {"y": {"field": "lo", "type": "quantitative", "scale": {"domain": [-0.43, 9.25], "nice": false, "zero": false}}, "y2": {"field": "hi"},
          "detail": {"field": "s"}, "fill": {"condition": {"test": "indexof(datum.s, 'FFN') == 0", "value": "#6495ED"}, "value": "#F5AF41"}}},
        {"mark": {"type": "line", "strokeWidth": 1.5}, "encoding": {"y": {"field": "y", "type": "quantitative", "scale": {"domain": [-0.43, 9.25], "nice": false, "zero": false},
            "axis": {"title": "Bias change", "labelOverlap": false, "tickCount": 200, "values": [0,0.5,1,1.5,2,2.5,3,3.5,4,4.5,5,5.5,6,6.5,7,7.5,8,8.5], "labelExpr": "datum.value % 2 == 0 ? format(datum.value, 'd') : ''",
              "tickSize": {"condition": {"test": "datum.value % 2 == 0", "value": 4}, "value": 2},
              "gridOpacity": {"condition": {"test": "datum.value % 2 == 0", "value": 1}, "value": 0}}},
          "color": {"field": "s", "type": "nominal", "title": null, "legend": {"orient": "top-left", "symbolType": "stroke", "symbolOpacity": 0.85}, "scale": {"domain": ["FFN Layer[1]","FFN Layer[2:n]","MLP Layer[1]","MLP Layer[2:n]"], "range": ["#6495ED","#6495ED","#F5AF41","#F5AF41"]}},
          "strokeDash": {"field": "s", "type": "nominal", "title": null, "scale": {"domain": ["FFN Layer[1]","FFN Layer[2:n]","MLP Layer[1]","MLP Layer[2:n]"], "range": [[1,0],[5,2.5],[1,0],[5,2.5]]}}}},
        {"mark": {"type": "point", "filled": true, "size": 22, "opacity": 1}, "encoding": {"y": {"field": "y", "type": "quantitative", "scale": {"domain": [-0.43, 9.25], "nice": false, "zero": false}},
          "color": {"condition": {"test": "indexof(datum.s, 'FFN') == 0", "value": "#6495ED"}, "value": "#F5AF41"},
          "shape": {"condition": {"test": "indexof(datum.s, 'FFN') == 0", "value": "circle"}, "value": "triangle-up"}}},
        {"transform": [{"filter": "datum.x == 0 && datum.s == 'FFN Layer[1]'"}],
          "mark": {"type": "text", "text": "1e6", "align": "right", "baseline": "middle", "dy": 22, "fontSize": 11},
          "encoding": {"x": {"datum": 1050000}, "y": {"datum": -0.43}}}
      ]
    },
    {
      "title": {"text": "Humanoid-run (Bias)", "fontWeight": "normal", "fontSize": 17, "font": "Liberation Serif", "offset": 10.5}, "width": 232, "height": 134,
      "data": {"name": "humanoid"},
      "encoding": {"x": {"field": "x", "type": "quantitative", "scale": {"domain": [-100000, 2100000], "nice": false, "zero": false},
        "axis": {"title": "Frames", "labelOverlap": false, "tickCount": 200, "values": [0,100000,200000,300000,400000,500000,600000,700000,800000,900000,1000000,1100000,1200000,1300000,1400000,1500000,1600000,1700000,1800000,1900000,2000000],
          "labelExpr": "datum.value % 500000 == 0 ? format(datum.value / 1e6, '.1f') : ''",
          "tickSize": {"condition": {"test": "datum.value % 500000 == 0", "value": 4}, "value": 2},
          "gridOpacity": {"condition": {"test": "datum.value % 500000 == 0", "value": 1}, "value": 0}}}},
      "layer": [
        {"mark": {"type": "area", "opacity": 0.15}, "encoding": {"y": {"field": "lo", "type": "quantitative", "scale": {"domain": [-1.0, 21.6], "nice": false, "zero": false}}, "y2": {"field": "hi"},
          "detail": {"field": "s"}, "fill": {"condition": {"test": "indexof(datum.s, 'FFN') == 0", "value": "#6495ED"}, "value": "#F5AF41"}}},
        {"mark": {"type": "line", "strokeWidth": 1.5}, "encoding": {"y": {"field": "y", "type": "quantitative", "scale": {"domain": [-1.0, 21.6], "nice": false, "zero": false},
            "axis": {"title": "Bias change", "labelOverlap": false, "tickCount": 200, "values": [0,1,2,3,4,5,6,7,8,9,10,11,12,13,14,15,16,17,18,19,20], "labelExpr": "datum.value % 5 == 0 ? format(datum.value, 'd') : ''",
              "tickSize": {"condition": {"test": "datum.value % 5 == 0", "value": 4}, "value": 2},
              "gridOpacity": {"condition": {"test": "datum.value % 5 == 0", "value": 1}, "value": 0}}},
          "color": {"field": "s", "type": "nominal", "title": null, "legend": {"orient": "top-left", "symbolType": "stroke", "symbolOpacity": 0.85}, "scale": {"domain": ["FFN Layer[1]","FFN Layer[2:n]","MLP Layer[1]","MLP Layer[2:n]"], "range": ["#6495ED","#6495ED","#F5AF41","#F5AF41"]}},
          "strokeDash": {"field": "s", "type": "nominal", "title": null, "scale": {"domain": ["FFN Layer[1]","FFN Layer[2:n]","MLP Layer[1]","MLP Layer[2:n]"], "range": [[1,0],[5,2.5],[1,0],[5,2.5]]}}}},
        {"mark": {"type": "point", "filled": true, "size": 22, "opacity": 1}, "encoding": {"y": {"field": "y", "type": "quantitative", "scale": {"domain": [-1.0, 21.6], "nice": false, "zero": false}},
          "color": {"condition": {"test": "indexof(datum.s, 'FFN') == 0", "value": "#6495ED"}, "value": "#F5AF41"},
          "shape": {"condition": {"test": "indexof(datum.s, 'FFN') == 0", "value": "circle"}, "value": "triangle-up"}}},
        {"transform": [{"filter": "datum.x == 0 && datum.s == 'FFN Layer[1]'"}],
          "mark": {"type": "text", "text": "1e6", "align": "right", "baseline": "middle", "dy": 22, "fontSize": 11},
          "encoding": {"x": {"datum": 2100000}, "y": {"datum": -1.0}}}
      ]
    },
    {
      "title": {"text": "Quadruped-walk (Bias)", "fontWeight": "normal", "fontSize": 17, "font": "Liberation Serif", "offset": 10.5}, "width": 232, "height": 134,
      "data": {"name": "qwalk"},
      "encoding": {"x": {"field": "x", "type": "quantitative", "scale": {"domain": [-50000, 1050000], "nice": false, "zero": false},
        "axis": {"title": "Frames", "labelOverlap": false, "tickCount": 200, "values": [0,50000,100000,150000,200000,250000,300000,350000,400000,450000,500000,550000,600000,650000,700000,750000,800000,850000,900000,950000,1000000],
          "labelExpr": "datum.value % 200000 == 0 ? format(datum.value / 1e6, '.1f') : ''",
          "tickSize": {"condition": {"test": "datum.value % 200000 == 0", "value": 4}, "value": 2},
          "gridOpacity": {"condition": {"test": "datum.value % 200000 == 0", "value": 1}, "value": 0}}}},
      "layer": [
        {"mark": {"type": "area", "opacity": 0.15}, "encoding": {"y": {"field": "lo", "type": "quantitative", "scale": {"domain": [-1.3, 27.7], "nice": false, "zero": false}}, "y2": {"field": "hi"},
          "detail": {"field": "s"}, "fill": {"condition": {"test": "indexof(datum.s, 'FFN') == 0", "value": "#6495ED"}, "value": "#F5AF41"}}},
        {"mark": {"type": "line", "strokeWidth": 1.5}, "encoding": {"y": {"field": "y", "type": "quantitative", "scale": {"domain": [-1.3, 27.7], "nice": false, "zero": false},
            "axis": {"title": "Bias change", "labelOverlap": false, "tickCount": 200, "values": [0,1,2,3,4,5,6,7,8,9,10,11,12,13,14,15,16,17,18,19,20,21,22,23,24,25,26], "labelExpr": "datum.value % 5 == 0 ? format(datum.value, 'd') : ''",
              "tickSize": {"condition": {"test": "datum.value % 5 == 0", "value": 4}, "value": 2},
              "gridOpacity": {"condition": {"test": "datum.value % 5 == 0", "value": 1}, "value": 0}}},
          "color": {"field": "s", "type": "nominal", "title": null, "legend": {"orient": "top-left", "symbolType": "stroke", "symbolOpacity": 0.85}, "scale": {"domain": ["FFN Layer[1]","FFN Layer[2:n]","MLP Layer[1]","MLP Layer[2:n]"], "range": ["#6495ED","#6495ED","#F5AF41","#F5AF41"]}},
          "strokeDash": {"field": "s", "type": "nominal", "title": null, "scale": {"domain": ["FFN Layer[1]","FFN Layer[2:n]","MLP Layer[1]","MLP Layer[2:n]"], "range": [[1,0],[5,2.5],[1,0],[5,2.5]]}}}},
        {"mark": {"type": "point", "filled": true, "size": 22, "opacity": 1}, "encoding": {"y": {"field": "y", "type": "quantitative", "scale": {"domain": [-1.3, 27.7], "nice": false, "zero": false}},
          "color": {"condition": {"test": "indexof(datum.s, 'FFN') == 0", "value": "#6495ED"}, "value": "#F5AF41"},
          "shape": {"condition": {"test": "indexof(datum.s, 'FFN') == 0", "value": "circle"}, "value": "triangle-up"}}},
        {"transform": [{"filter": "datum.x == 0 && datum.s == 'FFN Layer[1]'"}],
          "mark": {"type": "text", "text": "1e6", "align": "right", "baseline": "middle", "dy": 22, "fontSize": 11},
          "encoding": {"x": {"datum": 1050000}, "y": {"datum": -1.3}}}
      ]
    },
    {
      "title": {"text": "Quadruped-run (Bias)", "fontWeight": "normal", "fontSize": 17, "font": "Liberation Serif", "offset": 10.5}, "width": 232, "height": 134,
      "data": {"name": "qrun"},
      "encoding": {"x": {"field": "x", "type": "quantitative", "scale": {"domain": [-50000, 1050000], "nice": false, "zero": false},
        "axis": {"title": "Frames", "labelOverlap": false, "tickCount": 200, "values": [0,50000,100000,150000,200000,250000,300000,350000,400000,450000,500000,550000,600000,650000,700000,750000,800000,850000,900000,950000,1000000],
          "labelExpr": "datum.value % 200000 == 0 ? format(datum.value / 1e6, '.1f') : ''",
          "tickSize": {"condition": {"test": "datum.value % 200000 == 0", "value": 4}, "value": 2},
          "gridOpacity": {"condition": {"test": "datum.value % 200000 == 0", "value": 1}, "value": 0}}}},
      "layer": [
        {"mark": {"type": "area", "opacity": 0.15}, "encoding": {"y": {"field": "lo", "type": "quantitative", "scale": {"domain": [-0.93, 19.8], "nice": false, "zero": false}}, "y2": {"field": "hi"},
          "detail": {"field": "s"}, "fill": {"condition": {"test": "indexof(datum.s, 'FFN') == 0", "value": "#6495ED"}, "value": "#F5AF41"}}},
        {"mark": {"type": "line", "strokeWidth": 1.5}, "encoding": {"y": {"field": "y", "type": "quantitative", "scale": {"domain": [-0.93, 19.8], "nice": false, "zero": false},
            "axis": {"title": "Bias change", "labelOverlap": false, "tickCount": 200, "values": [0,1,2,3,4,5,6,7,8,9,10,11,12,13,14,15,16,17,18], "labelExpr": "datum.value % 5 == 0 ? format(datum.value, 'd') : ''",
              "tickSize": {"condition": {"test": "datum.value % 5 == 0", "value": 4}, "value": 2},
              "gridOpacity": {"condition": {"test": "datum.value % 5 == 0", "value": 1}, "value": 0}}},
          "color": {"field": "s", "type": "nominal", "title": null, "legend": {"orient": "top-left", "symbolType": "stroke", "symbolOpacity": 0.85}, "scale": {"domain": ["FFN Layer[1]","FFN Layer[2:n]","MLP Layer[1]","MLP Layer[2:n]"], "range": ["#6495ED","#6495ED","#F5AF41","#F5AF41"]}},
          "strokeDash": {"field": "s", "type": "nominal", "title": null, "scale": {"domain": ["FFN Layer[1]","FFN Layer[2:n]","MLP Layer[1]","MLP Layer[2:n]"], "range": [[1,0],[5,2.5],[1,0],[5,2.5]]}}}},
        {"mark": {"type": "point", "filled": true, "size": 22, "opacity": 1}, "encoding": {"y": {"field": "y", "type": "quantitative", "scale": {"domain": [-0.93, 19.8], "nice": false, "zero": false}},
          "color": {"condition": {"test": "indexof(datum.s, 'FFN') == 0", "value": "#6495ED"}, "value": "#F5AF41"},
          "shape": {"condition": {"test": "indexof(datum.s, 'FFN') == 0", "value": "circle"}, "value": "triangle-up"}}},
        {"transform": [{"filter": "datum.x == 0 && datum.s == 'FFN Layer[1]'"}],
          "mark": {"type": "text", "text": "1e6", "align": "right", "baseline": "middle", "dy": 22, "fontSize": 11},
          "encoding": {"x": {"datum": 1050000}, "y": {"datum": -0.93}}}
      ]
    }
  ]
}
